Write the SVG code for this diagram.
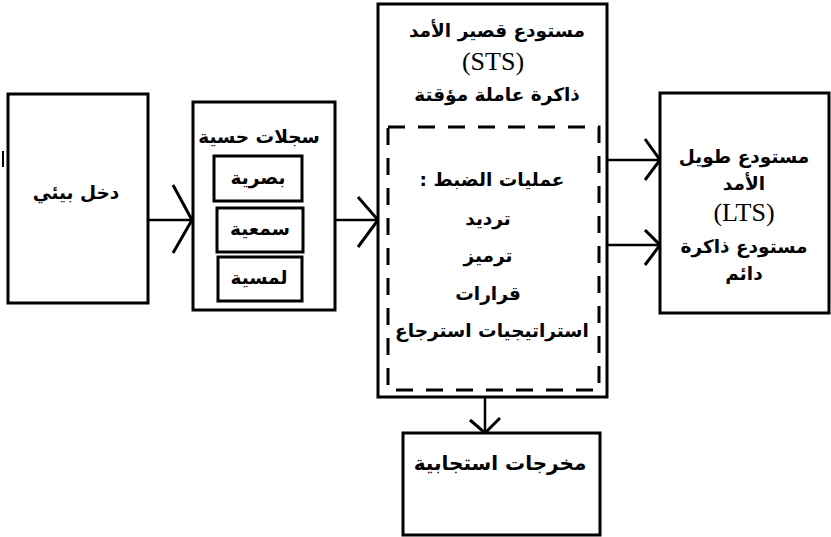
<svg xmlns="http://www.w3.org/2000/svg" width="831" height="537" viewBox="0 0 831 537">
<style>
.box{fill:#fff;stroke:#000;stroke-width:3}
.inner{fill:#fff;stroke:#000;stroke-width:3}
.dash{fill:none;stroke:#000;stroke-width:3;stroke-dasharray:17 13}
.ln{fill:none;stroke:#000;stroke-width:2.5}
.hd{fill:none;stroke:#000;stroke-width:3;stroke-linejoin:miter}
.ar{font-family:"DejaVu Sans","Noto Sans",sans-serif;font-weight:bold;font-size:18.5px;text-anchor:middle;direction:rtl;fill:#000}
.lat{font-family:"Liberation Serif",serif;font-size:26px;text-anchor:middle;fill:#000}
</style>
<rect width="831" height="537" fill="#fff"/>
<line x1="3" y1="151" x2="3" y2="167" stroke="#000" stroke-width="2"/>
<g id="connectors">
<line class="ln" x1="148" y1="220" x2="191" y2="220"/>
<polyline class="hd" points="173,185 192,220 173,253"/>
<line class="ln" x1="335" y1="220" x2="377" y2="220"/>
<polyline class="hd" points="358,197 378,220 358,247"/>
<line class="ln" x1="607" y1="160" x2="659" y2="160"/>
<polyline class="hd" points="645,139 660,160 645,180"/>
<line class="ln" x1="607" y1="245" x2="659" y2="245"/>
<polyline class="hd" points="645,230 660,245 645,265"/>
<line class="ln" x1="485" y1="397" x2="485" y2="432"/>
<polyline class="hd" points="470,420 485,433 500,418"/>
</g>
<g id="input">
<rect class="box" x="8" y="94" width="140" height="209"/>
<text class="ar" x="76" y="199">دخل بيئي</text>
</g>
<g id="sensory">
<rect class="box" x="193" y="102" width="142" height="208"/>
<text class="ar" x="259" y="143">سجلات حسية</text>
<rect class="inner" x="214" y="156" width="88" height="45"/>
<text class="ar" x="258" y="184">بصرية</text>
<rect class="inner" x="217" y="208" width="86" height="44"/>
<text class="ar" x="260" y="235">سمعية</text>
<rect class="inner" x="218" y="257" width="84" height="44"/>
<text class="ar" x="259" y="284">لمسية</text>
</g>
<g id="sts">
<rect class="box" x="378" y="4" width="229" height="393"/>
<text class="ar" x="497" y="37">مستودع قصير الأمد</text>
<text class="lat" x="493" y="70">(STS)</text>
<text class="ar" x="497" y="101">ذاكرة عاملة مؤقتة</text>
<rect class="dash" x="388" y="127" width="211" height="263"/>
<text class="ar" x="492" y="186">عمليات الضبط :</text>
<text class="ar" x="488" y="225">ترديد</text>
<text class="ar" x="488" y="262">ترميز</text>
<text class="ar" x="488" y="300">قرارات</text>
<text class="ar" x="492" y="337">استراتيجيات استرجاع</text>
</g>
<g id="lts">
<rect class="box" x="660" y="93" width="169" height="220"/>
<text class="ar" x="744" y="163">مستودع طويل</text>
<text class="ar" x="744" y="190">الأمد</text>
<text class="lat" x="744" y="221">(LTS)</text>
<text class="ar" x="744" y="253">مستودع ذاكرة</text>
<text class="ar" x="744" y="280">دائم</text>
</g>
<g id="output">
<rect class="box" x="403" y="433" width="197" height="102"/>
<text class="ar" x="500" y="470" style="font-size:20px">مخرجات استجابية</text>
</g>
</svg>
